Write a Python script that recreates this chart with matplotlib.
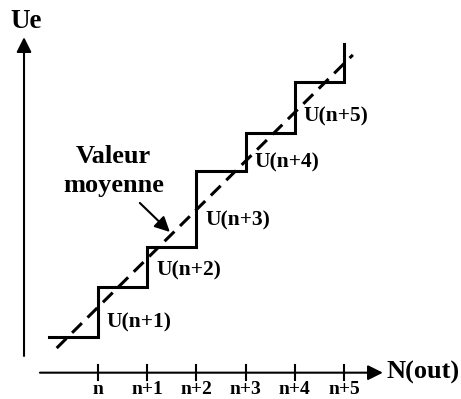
import matplotlib.pyplot as plt
import numpy as np

# staircase: step edges (in units of N) and output levels
edges = [-1, 0, 1, 2, 3, 4, 5]
levels = [0.73, 1.74, 2.55, 4.10, 4.87, 5.91, 6.68]
# mean value line (dashed)
mean_x = [-0.84, 5.18]
mean_y = [0.50, 6.46]

ticks = [0, 1, 2, 3, 4, 5]
tick_labels = ["n", "n+1", "n+2", "n+3", "n+4", "n+5"]
step_labels = ["U(n+1)", "U(n+2)", "U(n+3)", "U(n+4)", "U(n+5)"]
step_label_y = [1.03, 2.07, 3.10, 4.28, 5.20]

plt.rcParams['font.family'] = ['Liberation Serif', 'DejaVu Serif']
plt.rcParams['font.weight'] = 'bold'

fig = plt.figure(figsize=(4.61, 3.99), dpi=100)
ax = fig.add_axes([0, 0, 1, 1])
ax.set_xlim(-1.992, 7.378)
ax.set_ylim(-0.535, 7.575)
ax.axis('off')

# staircase and mean line
ax.plot(edges, levels, drawstyle='steps-post', color='black', lw=2.2,
        solid_joinstyle='miter')
ax.plot(mean_x, mean_y, color='black', lw=2.2, dashes=(4.5, 2.6))

# axes with arrows
arrow = dict(arrowstyle='-|>,head_length=0.6,head_width=0.3',
             mutation_scale=15, lw=1.5, color='black', shrinkA=0, shrinkB=0)
ax.annotate("", xy=(5.79, 0), xytext=(-1.18, 0), arrowprops=arrow)
ax.annotate("", xy=(-1.504, 6.82), xytext=(-1.504, 0.34), arrowprops=arrow)

for t, lab in zip(ticks, tick_labels):
    ax.plot([t, t], [-0.15, 0.15], color='black', lw=1.5)
    ax.text(t, -0.34, lab, ha='center', va='center', fontsize=14,
            fontweight='bold')

for t, lab, y in zip(ticks, step_labels, step_label_y):
    ax.text(t + 0.18, y, lab, ha='left', va='center', fontsize=15.5,
            fontweight='bold')

ax.text(-1.46, 7.13, "Ue", ha='center', va='center', fontsize=19.5,
        fontweight='bold')
ax.text(5.86, 0.0, "N(out)", ha='left', va='center', fontsize=19,
        fontweight='bold')

ax.text(0.32, 4.1, "Valeur\nmoyenne", ha='center', va='center',
        fontsize=19, fontweight='bold', linespacing=1.35)
ax.annotate("", xy=(1.46, 2.86), xytext=(0.85, 3.45), arrowprops=arrow)

fig.savefig('out.png', dpi=100)
